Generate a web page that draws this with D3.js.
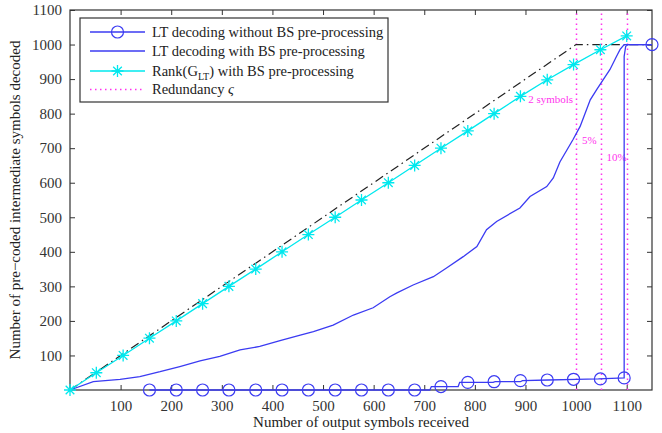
<!DOCTYPE html>
<html><head><meta charset="utf-8">
<script src="https://cdn.jsdelivr.net/npm/d3@7"></script>
<style>
html,body{margin:0;padding:0;background:#fff;}
svg{display:block;font-family:"Liberation Serif","Times New Roman",serif;}
</style></head>
<body><svg id="c" width="662" height="433"></svg>
<script>
const xTicks = [100,200,300,400,500,600,700,800,900,1000,1100];
const yTicks = [100,200,300,400,500,600,700,800,900,1000,1100];

const idealX = [0, 1000, 1150];
const idealY = [0, 1000, 1000];

const rankX = [0,52,105,157,210,262,314,367,419,471,524,576,629,681,733,786,838,890,943,995,1048,1100];
const rankY = [0,50,100,150,200,250,300,350,400,450,500,550,600,650,700,750,800,850,898,942,985,1025];

const bsX = [0,46,99,138,178,217,257,296,336,375,415,455,481,520,560,599,632,646,678,718,744,777,804,823,843,889,909,942,955,968,994,1008,1028,1041,1054,1067,1080,1087,1095,1150];
const bsY = [0,24,31,39,53,68,84,97,116,126,143,159,169,188,217,238,270,281,304,328,353,386,415,464,488,527,560,589,614,660,725,763,840,870,899,928,966,986,1000,1000];

const noBsX = [157,700,711,714,767,770,836,840,890,894,945,1000,1044,1095,1095,1098,1103,1150];
const noBsY = [0,0,0,10,10,22,22,24,24,27,29,31,32,35,966,995,1000,1000];
const noBsMarkX = [157,210,262,314,367,419,471,524,576,629,681,733,786,838,890,943,995,1048,1095,1150];
const noBsMarkY = [0,0,0,0,0,0,0,0,0,0,0,10,22,24,27,29,31,32,35,1000];

const redundancyX = [1000,1050,1100];
const redundancyLabels = ["2 symbols","5%","10%"];
const redundancyLabelY = [842,724,674];

const legendLabels = ["LT decoding without BS pre-processing","LT decoding with BS pre-processing","Rank(G","Redundancy ς"];

const svg = d3.select("#c");
const L=70,R=652,T=10,B=390;
const x = d3.scaleLinear().domain([0,1150]).range([L,R]);
const y = d3.scaleLinear().domain([0,1100]).range([B,T]);

const BLUE="#3b3bf2", CYAN="#00e8ee", MAG="#ff33ee", AX="#333";
const fmt = d3.format("d");

// axes (MATLAB box, inner ticks)
const gx = svg.append("g").attr("transform",`translate(0,${B})`)
  .call(d3.axisBottom(x).tickValues(xTicks).tickFormat(fmt).tickSizeInner(-5).tickSizeOuter(0).tickPadding(10));
const gxt = svg.append("g").attr("transform",`translate(0,${T})`)
  .call(d3.axisTop(x).tickValues(xTicks).tickSizeInner(-5).tickSizeOuter(0).tickFormat(""));
const gy = svg.append("g").attr("transform",`translate(${L},0)`)
  .call(d3.axisLeft(y).tickValues(yTicks).tickFormat(fmt).tickSizeInner(-5).tickSizeOuter(0).tickPadding(8));
const gyr = svg.append("g").attr("transform",`translate(${R},0)`)
  .call(d3.axisRight(y).tickValues(yTicks).tickSizeInner(-5).tickSizeOuter(0).tickFormat(""));
[gx,gxt,gy,gyr].forEach(g=>{
  g.select(".domain").remove();
  g.selectAll("line").attr("stroke",AX);
  g.selectAll("text").attr("fill",AX).style("font-size","15px").style("font-family","Liberation Serif, serif");
});
svg.append("rect").attr("x",L).attr("y",T).attr("width",R-L).attr("height",B-T)
  .attr("fill","none").attr("stroke",AX).attr("stroke-width",1.2);

const line = d3.line().x(d=>x(d[0])).y(d=>y(d[1]));

// redundancy lines
redundancyX.forEach((v,i)=>{
  svg.append("line").attr("x1",Math.round(x(v))+0.5).attr("x2",Math.round(x(v))+0.5).attr("y1",y(0)).attr("y2",y(1100))
    .attr("stroke",MAG).attr("stroke-width",1.5).attr("stroke-dasharray","1.5,3.5");
});
svg.append("text").attr("x",x(redundancyX[0])-3).attr("y",y(redundancyLabelY[0])+4).attr("text-anchor","end")
  .attr("fill",MAG).style("font-size","11px").text(redundancyLabels[0]);
svg.append("text").attr("x",x(redundancyX[0])+6).attr("y",y(redundancyLabelY[1])+4)
  .attr("fill",MAG).style("font-size","11px").text(redundancyLabels[1]);
svg.append("text").attr("x",x(redundancyX[1])+5).attr("y",y(redundancyLabelY[2])+4)
  .attr("fill",MAG).style("font-size","11px").text(redundancyLabels[2]);

// ideal dash-dot
svg.append("path").datum(idealX.map((v,i)=>[v,idealY[i]])).attr("d",line)
  .attr("fill","none").attr("stroke","#222").attr("stroke-width",1.2).attr("stroke-dasharray","9,4,1.5,4");

// LT without BS
svg.append("path").datum(noBsX.map((v,i)=>[v,noBsY[i]])).attr("d",line)
  .attr("fill","none").attr("stroke",BLUE).attr("stroke-width",1.3);
svg.selectAll("circle.nb").data(noBsMarkX.map((v,i)=>[v,noBsMarkY[i]])).enter().append("circle")
  .attr("cx",d=>x(d[0])).attr("cy",d=>y(d[1])).attr("r",6)
  .attr("fill","none").attr("stroke",BLUE).attr("stroke-width",1.2);

// LT with BS
svg.append("path").datum(bsX.map((v,i)=>[v,bsY[i]])).attr("d",line)
  .attr("fill","none").attr("stroke",BLUE).attr("stroke-width",1.3);

// Rank
function star(g,cx,cy,s){
  const d=s*0.72;
  g.append("path").attr("d",`M${cx-s},${cy}L${cx+s},${cy}M${cx},${cy-s}L${cx},${cy+s}M${cx-d},${cy-d}L${cx+d},${cy+d}M${cx-d},${cy+d}L${cx+d},${cy-d}`)
   .attr("stroke",CYAN).attr("stroke-width",1.3).attr("fill","none");
}
svg.append("path").datum(rankX.map((v,i)=>[v,rankY[i]])).attr("d",line)
  .attr("fill","none").attr("stroke",CYAN).attr("stroke-width",1.3);
const gs = svg.append("g");
rankX.forEach((v,i)=>star(gs,x(v),y(rankY[i]),6));

// legend
const lg = svg.append("g");
lg.append("rect").attr("x",80).attr("y",18).attr("width",308).attr("height",84)
  .attr("fill","#fff").attr("stroke",AX).attr("stroke-width",1.2);
const ly=[32,51,71,89];
lg.append("line").attr("x1",90).attr("x2",145).attr("y1",ly[0]).attr("y2",ly[0]).attr("stroke",BLUE).attr("stroke-width",1.3);
lg.append("circle").attr("cx",117.5).attr("cy",ly[0]).attr("r",6).attr("fill","none").attr("stroke",BLUE).attr("stroke-width",1.2);
lg.append("line").attr("x1",90).attr("x2",145).attr("y1",ly[1]).attr("y2",ly[1]).attr("stroke",BLUE).attr("stroke-width",1.3);
lg.append("line").attr("x1",90).attr("x2",145).attr("y1",ly[2]).attr("y2",ly[2]).attr("stroke",CYAN).attr("stroke-width",1.3);
star(lg,117.5,ly[2],6);
lg.append("line").attr("x1",90).attr("x2",145).attr("y1",ly[3]+0.5).attr("y2",ly[3]+0.5).attr("stroke",MAG).attr("stroke-width",1.5).attr("stroke-dasharray","1.5,3.5");
const tstyle = t=>t.attr("fill","#222").style("font-size","14.5px");
tstyle(lg.append("text").attr("x",152).attr("y",ly[0]+5).text(legendLabels[0]));
tstyle(lg.append("text").attr("x",152).attr("y",ly[1]+5).text(legendLabels[1]));
const t3 = tstyle(lg.append("text").attr("x",152).attr("y",ly[2]+5));
t3.append("tspan").text(legendLabels[2]);
t3.append("tspan").attr("dy",4).style("font-size","10px").text("LT");
t3.append("tspan").attr("dy",-4).text(") with BS pre-processing");
const t4 = tstyle(lg.append("text").attr("x",152).attr("y",ly[3]+5));
t4.append("tspan").text("Redundancy ");
t4.append("tspan").style("font-style","italic").text("ς");

// axis labels
svg.append("text").attr("x",(L+R)/2).attr("y",427).attr("text-anchor","middle")
  .attr("fill","#222").style("font-size","15px").text("Number of output symbols received");
svg.append("text").attr("transform",`translate(20,${(T+B)/2}) rotate(-90)`).attr("text-anchor","middle")
  .attr("fill","#222").style("font-size","15px").text("Number of pre−coded intermediate symbols decoded");
</script></body></html>
